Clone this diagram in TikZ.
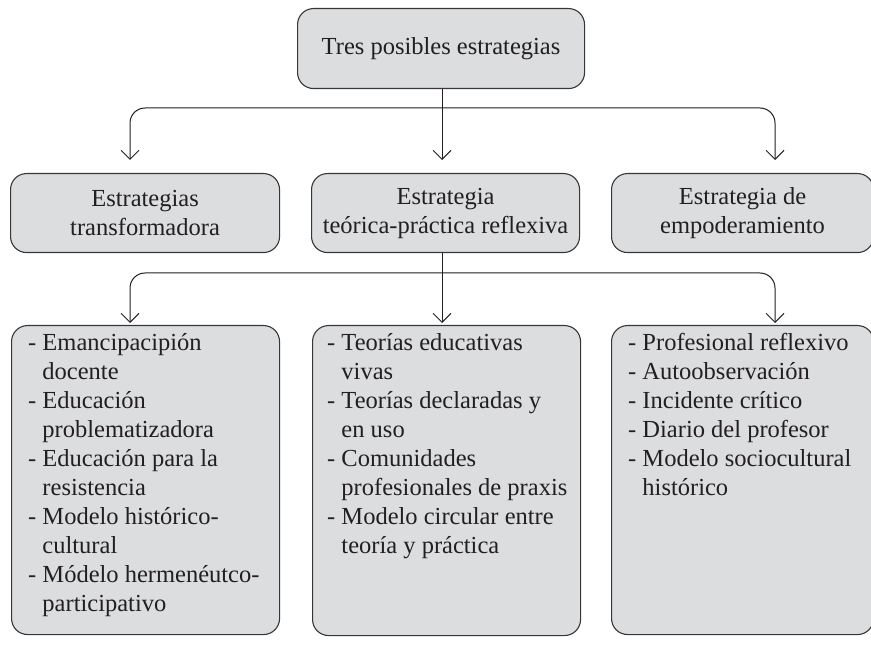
\documentclass[tikz,border=0pt]{standalone}
\usepackage{fontspec}
\setmainfont{Liberation Serif}
\usetikzlibrary{arrows.meta}
\definecolor{boxfill}{RGB}{220,221,223}
\definecolor{boxline}{RGB}{55,55,55}
\definecolor{ink}{RGB}{35,31,32}
\tikzset{
  txt/.style={font=\fontsize{24.5}{29}\selectfont, text=ink},
  boxnode/.style={draw=boxline, fill=boxfill, rounded corners=16pt, line width=1.1pt,
    inner sep=0pt, anchor=north west, align=center, txt},
  listnode/.style={txt, inner sep=0pt, anchor=north west, align=left},
  conn/.style={draw=ink, line width=1pt, rounded corners=15pt,
    -{Straight Barb[length=9pt,width=18pt,line width=1pt]}}
}
\begin{document}
\begin{tikzpicture}[x=1pt,y=-1pt]
\useasboundingbox (0,0) rectangle (871,647);
% top
\node[boxnode, minimum width=287pt, minimum height=80pt] (top) at (297,8) {Tres posibles estrategias};
% middle row
\node[boxnode, minimum width=269pt, minimum height=79pt] (t1) at (10,173) {Estrategias\\transformadora};
\node[boxnode, minimum width=268pt, minimum height=79pt] (t2) at (311,173) {Estrategia\\teórica-práctica reflexiva};
\node[boxnode, minimum width=262pt, minimum height=79pt] (t3) at (611,173) {Estrategia de\\empoderamiento};
% bottom row
\node[boxnode, minimum width=268pt, minimum height=309pt] (b1) at (11,325) {};
\node[boxnode, minimum width=268pt, minimum height=310pt] (b2) at (312,325) {};
\node[boxnode, minimum width=262pt, minimum height=309pt] (b3) at (611,325) {};
\node[listnode] (l1) at (28,329.5) {\strut- Emancipacipión\\\phantom{- }docente\\- Educación\\\phantom{- }problematizadora\\- Educación para la\\\phantom{- }resistencia\\- Modelo histórico-\\\phantom{- }cultural\\- Módelo hermenéutco-\\\phantom{- }participativo};
\node[listnode] (l2) at (327,329.5) {\strut- Teorías educativas\\\phantom{- }vivas\\- Teorías declaradas y\\\phantom{- }en uso\\- Comunidades\\\phantom{- }profesionales de praxis\\- Modelo circular entre\\\phantom{- }teoría y práctica};
\node[listnode] (l3) at (628,329.5) {\strut- Profesional reflexivo\\- Autoobservación\\- Incidente crítico\\- Diario del profesor\\- Modelo sociocultural\\\phantom{- }histórico};
% connectors level 1
\coordinate (j1) at (442,108);
\coordinate (a1) at (130,160);
\coordinate (a2) at (442,160);
\coordinate (a3) at (775,160);
\draw[conn] (top.south -| j1) -- (a2);
\draw[conn] (j1) -| (a1);
\draw[conn] (j1) -| (a3);
% connectors level 2
\coordinate (j2) at (442,273);
\coordinate (c1) at (130,323);
\coordinate (c2) at (442,323);
\coordinate (c3) at (775,323);
\draw[conn] (t2.south -| j2) -- (c2);
\draw[conn] (j2) -| (c1);
\draw[conn] (j2) -| (c3);
\end{tikzpicture}
\end{document}
